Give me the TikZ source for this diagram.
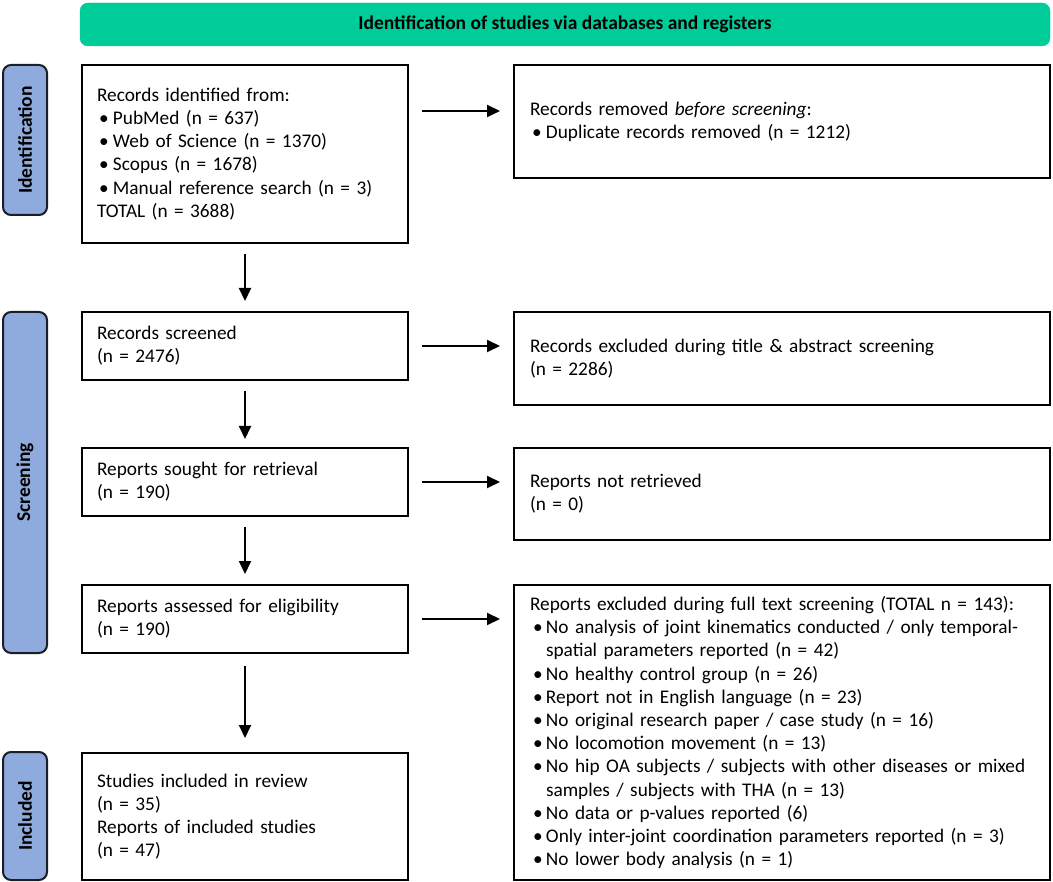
\documentclass[tikz,border=0pt]{standalone}
\usepackage{fontspec}
\setmainfont{Carlito}
\usetikzlibrary{arrows.meta}
\definecolor{hdrgreen}{RGB}{0,204,153}
\definecolor{barblue}{RGB}{143,170,220}
\definecolor{barline}{RGB}{25,30,40}
\newcommand{\bl}{\makebox[16pt][l]{\hspace{2pt}\textbullet}}
\newcommand{\blr}{\makebox[16pt][l]{\hspace{3pt}\textbullet}}
\newcommand{\cont}{\hspace*{16pt}}
\begin{document}
\begin{tikzpicture}[x=1pt,y=-1pt,
  flowbox/.style={draw=black, line width=2pt, align=left, inner xsep=15pt, inner ysep=0pt,
    font=\fontsize{19.3}{23.2}\selectfont, anchor=center},
  leftbox/.style={flowbox, text width=296pt, minimum width=326pt},
  rightbox/.style={flowbox, inner xsep=16pt, text width=504pt, minimum width=536pt},
  sidebar/.style={draw=barline, fill=barblue, line width=2pt, rounded corners=8pt,
    rotate=90, minimum height=44pt, inner sep=0pt,
    font=\fontsize{19.5}{22}\selectfont\bfseries},
  header/.style={fill=hdrgreen, draw=hdrgreen, rounded corners=8pt, minimum width=970pt,
    minimum height=43pt, inner sep=0pt, font=\fontsize{19.5}{22}\selectfont\bfseries},
  flowarrow/.style={line width=2pt, -{Triangle[length=13pt,width=12pt]}},
  ]
\useasboundingbox (0,0) rectangle (1053,882);

\node[header] (hdr) at (565,24.5) {Identification of studies via databases and registers};

\node[sidebar, minimum width=150pt] (idbar) at (25,140) {Identification};
\node[sidebar, minimum width=341pt] (scrbar) at (25,482.5) {Screening};
\node[sidebar, minimum width=128pt] (incbar) at (25,816) {Included};

\node[leftbox, minimum height=178pt] (ident) at (245,154) {Records identified from:\\
\bl PubMed (n = 637)\\
\bl Web of Science (n = 1370)\\
\bl Scopus (n = 1678)\\
\bl Manual reference search (n = 3)\\
TOTAL (n = 3688)};

\node[rightbox, minimum height=113pt] (removed) at (782,121.5) {Records removed \emph{before screening}:\\
\bl Duplicate records removed (n = 1212)};

\node[leftbox, minimum height=68pt] (screened) at (245,346) {Records screened\\(n = 2476)};
\node[rightbox, minimum height=93pt] (excluded) at (782,358.5) {Records excluded during title \& abstract screening\\(n = 2286)};

\node[leftbox, minimum height=68pt] (sought) at (245,482) {Reports sought for retrieval\\(n = 190)};
\node[rightbox, minimum height=92pt] (notretr) at (782,494) {Reports not retrieved\\(n = 0)};

\node[leftbox, minimum height=68pt] (assessed) at (245,619) {Reports assessed for eligibility\\(n = 190)};
\node[rightbox, minimum height=295pt] (fulltext) at (782,732.5) {Reports excluded during full text screening (TOTAL n = 143):\\
\blr No analysis of joint kinematics conducted / only temporal-\\
\cont spatial parameters reported (n = 42)\\
\blr No healthy control group (n = 26)\\
\blr Report not in English language (n = 23)\\
\blr No original research paper / case study (n = 16)\\
\blr No locomotion movement (n = 13)\\
\blr No hip OA subjects / subjects with other diseases or mixed\\
\cont samples / subjects with THA (n = 13)\\
\blr No data or p-values reported (6)\\
\blr Only inter-joint coordination parameters reported (n = 3)\\
\blr No lower body analysis (n = 1)};

\node[leftbox, minimum height=127pt] (included) at (245,816.5) {Studies included in review\\(n = 35)\\Reports of included studies\\(n = 47)};

\coordinate (yrem) at (0,111);
\draw[flowarrow, shorten <=13pt, shorten >=13pt] (ident.east |- yrem) -- (removed.west |- yrem);
\draw[flowarrow, shorten <=13pt, shorten >=13pt] (screened.east) -- (screened.east -| excluded.west);
\draw[flowarrow, shorten <=13pt, shorten >=13pt] (sought.east) -- (sought.east -| notretr.west);
\draw[flowarrow, shorten <=13pt, shorten >=13pt] (assessed.east) -- (assessed.east -| fulltext.west);

\draw[flowarrow, shorten <=10pt, shorten >=10pt] (ident.south) -- (screened.north);
\draw[flowarrow, shorten <=10pt, shorten >=8pt] (screened.south) -- (sought.north);
\draw[flowarrow, shorten <=10pt, shorten >=10pt] (sought.south) -- (assessed.north);
\draw[flowarrow, shorten <=12pt, shorten >=14pt] (assessed.south) -- (included.north);
\end{tikzpicture}
\end{document}
